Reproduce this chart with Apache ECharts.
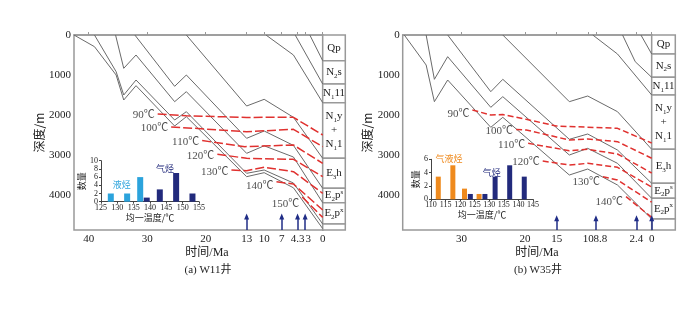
<!DOCTYPE html>
<html>
<head>
<meta charset="utf-8">
<script src="https://cdn.jsdelivr.net/npm/echarts@6/dist/echarts.min.js"></script>
<style>
  html, body { margin: 0; padding: 0; background: #fff; }
  #chart { width: 700px; height: 333px; }
</style>
</head>
<body>
<div id="chart"></div>
<script>
var SERIF = '"Liberation Serif", "DejaVu Serif", serif';
var MIXED = '"Liberation Serif", "Noto Sans CJK SC", serif';
var CJK = '"Noto Sans CJK SC", sans-serif';

var depthMax = 4875;

// ---------- (a) W11 well ----------
var timeTicksA = [40, 30, 20, 13, 10, 7, 4.3, 3, 0];
var arrowTimesA = [13, 7, 4.3, 3];
// burial curves, [time Ma, depth m]
var burialA = [
  [[2.2, 0], [0, 642]],
  [[4.7, 0], [0, 1225]],
  [[9.7, 0], [5, 500], [0, 1692]],
  [[23.3, 0], [13, 1775], [10, 1608], [5, 2058], [0, 3083]],
  [[32.1, 0], [25.3, 1283], [23.3, 1000], [13, 2583], [10, 2400], [5, 2760], [0, 3833]],
  [[35.4, 0], [34, 833], [31.9, 500], [25.3, 1667], [23.3, 1417], [13, 2958], [10, 2770], [5, 3050], [0, 4192]],
  [[39, 0], [35.3, 917], [34, 1500], [31.9, 1125], [25.3, 2125], [23.3, 1917], [13, 3458], [10, 3375], [5, 3700], [0, 4725]],
  [[42.5, 0], [39, 292], [35.3, 1000], [34, 1625], [31.9, 1267], [25.3, 2275], [23.3, 2042], [13, 3542], [10, 3442], [5, 3820], [0, 4840]]
];
var isoLabelsA = ['90℃', '100℃', '110℃', '120℃', '130℃', '140℃', '150℃'];
var isothermsA = [
  [[28.2, 1975], [23.3, 2020], [13, 2060], [5, 2058], [0, 2500]],
  [[25.9, 2300], [21.9, 2333], [13, 2417], [5, 2358], [0, 2792]],
  [[20.6, 2640], [13.3, 2792], [5, 2750], [0, 3208]],
  [[18.0, 2980], [13, 3083], [5, 3108], [0, 3542]],
  [[15.6, 3375], [13, 3392], [10, 3308], [5, 3417], [0, 3958]],
  [[7.9, 3667], [5, 3725], [0, 4375]],
  [[3.5, 4050], [0, 4560]]
];
var stratNamesA = ['{b|Qp}', '{b|N}{s|2}{b|s}', '{b|N}{s|1}{b|11}', '{b|N}{s|1}{b|y}\n{b|+}\n{b|N}{s|1}{b|1}',
  '{b|E}{s|3}{b|h}', '{b|E}{s|2}{b|p}{u|s}', '{b|E}{s|2}{b|p}{u|x}', ''];
var stratBottomsA = [642, 1225, 1692, 3083, 3833, 4192, 4725, 4875];
// homogenization temperature histogram
var liquidTempsA = [128, 133, 137];
var liquidCountsA = [2, 2, 6];
var gasTempsA = [139, 143, 148, 153];
var gasCountsA = [1, 3, 7, 2];

// ---------- (b) W35 well ----------
var timeTicksB = [30, 20, 15, 10, 8.8, 2.4, 0];
var arrowTimesB = [15, 8.8, 2.4, 0];
var burialB = [
  [[1.7, 0], [0, 475]],
  [[4.6, 0], [2.6, 667], [0, 1058]],
  [[9.3, 0], [5.4, 475], [0, 1500]],
  [[23.5, 0], [13, 1667], [10.1, 1525], [5.4, 1917], [0, 2858]],
  [[32.2, 0], [25.4, 1417], [23.5, 1108], [13, 2608], [10.1, 2475], [5.4, 2875], [0, 3708]],
  [[35.6, 0], [34.3, 1108], [32.2, 542], [25.4, 1808], [23.5, 1542], [13, 3000], [10.1, 2833], [5.4, 3208], [0, 4083]],
  [[39.05, 0], [35.6, 750], [34.3, 1667], [32.2, 1125], [25.4, 2308], [23.5, 2058], [13, 3500], [10.1, 3350], [5.4, 3750], [0, 4600]]
];
var isoLabelsB = ['90℃', '100℃', '110℃', '120℃', '130℃', '140℃'];
var isothermsB = [
  [[28.3, 1875], [25.4, 2000], [23.5, 1990], [19.8, 2108], [15.1, 2275], [5.4, 2333], [0, 2700]],
  [[21.4, 2360], [19.8, 2375], [13, 2625], [10.1, 2600], [5.4, 2667], [0, 3080]],
  [[19.5, 2708], [13, 2892], [10.1, 2858], [5.4, 2975], [0, 3450]],
  [[17.2, 3150], [13, 3250], [10.1, 3208], [5.4, 3308], [0, 3800]],
  [[7.7, 3542], [5.4, 3625], [0, 4180]],
  [[4.05, 4042], [0, 4560]]
];
var stratNamesB = stratNamesA;
var stratBottomsB = [475, 1058, 1500, 2858, 3708, 4083, 4600, 4875];
var condTempsB = [112.5, 117.5, 121.5, 126.5];
var condCountsB = [3.4, 5.1, 1.6, 0.8];
var gasTempsB = [123.5, 128.5, 132, 137, 142];
var gasCountsB = [0.8, 0.8, 3.4, 5.1, 3.4];

var chart = echarts.init(document.getElementById('chart'));

var stratRich = {
  b: { fontSize: 11, fontFamily: SERIF, lineHeight: 14, color: '#222' },
  s: { fontSize: 7, fontFamily: SERIF, lineHeight: 8, verticalAlign: 'bottom', color: '#222' },
  u: { fontSize: 7, fontFamily: SERIF, lineHeight: 8, verticalAlign: 'top', color: '#222' }
};

function stratRender(names) {
  return function (params, api) {
    var p0 = api.coord([0, api.value(0)]);
    var p1 = api.coord([1, api.value(1)]);
    return {
      type: 'rect',
      shape: { x: p0[0], y: p0[1], width: p1[0] - p0[0], height: p1[1] - p0[1] },
      style: { fill: '#fff', stroke: '#999', lineWidth: 1.5 },
      textContent: { style: { text: names[params.dataIndex], rich: stratRich, fill: '#222' } },
      textConfig: { position: 'inside' }
    };
  };
}

function stratData(bottoms) {
  return bottoms.map(function (b, i) { return [i === 0 ? 0 : bottoms[i - 1], b]; });
}

// crowded tick labels (4.3/3 and 10/8.8) sit a little apart in the original
var nudged = { 3: 6, 8.8: 9 };

function mainAxes(grid, maxT, ticks) {
  return {
    x: {
      gridIndex: grid, type: 'value', min: 0, max: maxT, inverse: true,
      axisLine: { show: true, lineStyle: { color: '#999', width: 1.5 } },
      axisTick: { show: true, inside: true, length: 3, customValues: ticks, lineStyle: { color: '#999' } },
      axisLabel: {
        customValues: ticks, fontSize: 11, fontFamily: SERIF, color: '#222', margin: 4,
        formatter: function (v) { return nudged[v] ? '{p' + nudged[v] + '|' + v + '}' : String(v); },
        rich: {
          p6: { padding: [0, 0, 0, 6], fontSize: 11, fontFamily: SERIF, color: '#222' },
          p9: { padding: [0, 0, 0, 9], fontSize: 11, fontFamily: SERIF, color: '#222' }
        }
      },
      splitLine: { show: false }
    },
    y: {
      gridIndex: grid, type: 'value', min: 0, max: depthMax, interval: 1000, inverse: true,
      name: '深度/m', nameLocation: 'middle', nameGap: 27,
      nameTextStyle: { fontSize: 12, fontFamily: CJK, color: '#222' },
      axisLine: { show: true, lineStyle: { color: '#999', width: 1.5 } },
      axisTick: { show: true, inside: true, length: 3, lineStyle: { color: '#999' } },
      axisLabel: {
        fontSize: 11, fontFamily: SERIF, color: '#222', margin: 3, showMaxLabel: false,
        formatter: function (v) { return String(v); }
      },
      splitLine: { show: false }
    }
  };
}

function stratAxes(grid) {
  return {
    x: { gridIndex: grid, type: 'value', min: 0, max: 1, show: false },
    y: { gridIndex: grid, type: 'value', min: 0, max: depthMax, inverse: true, show: false }
  };
}

function insetAxes(grid, xmin, xmax, ymax) {
  return {
    x: {
      gridIndex: grid, type: 'value', min: xmin, max: xmax, interval: 5,
      name: '均一温度/℃', nameLocation: 'middle', nameGap: 11,
      nameTextStyle: { fontSize: 9, fontFamily: CJK, color: '#222' },
      axisLine: { lineStyle: { color: '#444', width: 1 } },
      axisTick: { length: 2, lineStyle: { color: '#444' } },
      axisLabel: { fontSize: 8, fontFamily: SERIF, color: '#222', margin: 2 },
      splitLine: { show: false }
    },
    y: {
      gridIndex: grid, type: 'value', min: 0, max: ymax, interval: 2,
      name: '数量', nameLocation: 'middle', nameGap: 10,
      nameTextStyle: { fontSize: 9, fontFamily: CJK, color: '#222' },
      axisLine: { show: true, lineStyle: { color: '#444', width: 1 } },
      axisTick: { show: true, length: 2, lineStyle: { color: '#444' } },
      axisLabel: { fontSize: 8, fontFamily: SERIF, color: '#222', margin: 3 },
      splitLine: { show: false }
    }
  };
}

var axA = mainAxes(0, 42.5, timeTicksA);
var stA = stratAxes(1);
var inA = insetAxes(2, 125, 155, 10);
var axB = mainAxes(3, 39.3, timeTicksB);
var stB = stratAxes(4);
var inB = insetAxes(5, 110, 145, 6);

var series = [];

function addPanel(xi, burial, isotherms, labels, labelOffsets, arrows, arrowTip, dash) {
  burial.forEach(function (line, i) {
    var s = {
      type: 'line', xAxisIndex: xi, yAxisIndex: xi, data: line, symbol: 'none',
      lineStyle: { color: '#6a6a6a', width: 1 }, silent: true, z: 3
    };
    if (i === 0) {
      s.markLine = {
        silent: true, symbol: ['none', 'triangle'], symbolSize: [5, 6],
        label: { show: false },
        lineStyle: { color: '#1f2c86', width: 1.5, type: 'solid' },
        data: arrows.map(function (t) { return [{ coord: [t, depthMax] }, { coord: [t, arrowTip] }]; })
      };
    }
    series.push(s);
  });
  isotherms.forEach(function (line) {
    series.push({
      type: 'line', xAxisIndex: xi, yAxisIndex: xi, data: line, symbol: 'none',
      lineStyle: { color: '#e0312f', width: 1.5, type: dash }, silent: true, z: 4
    });
  });
  series.push({
    type: 'scatter', xAxisIndex: xi, yAxisIndex: xi, symbolSize: 0, silent: true, z: 5,
    data: isotherms.map(function (line, i) {
      return { value: line[0], label: { formatter: labels[i], offset: [0, labelOffsets[i]] } };
    }),
    label: { show: true, position: 'left', distance: 3, fontSize: 11, fontFamily: MIXED, color: '#222' }
  });
}

addPanel(0, burialA, isothermsA, isoLabelsA, [1, 1, 2, 2, 2, 4, 7], arrowTimesA, 4540, [9, 3]);
addPanel(3, burialB, isothermsB, isoLabelsB, [4, 2, 2, 1, 5, 5], arrowTimesB, 4580, [6, 3]);

series.push({
  type: 'custom', xAxisIndex: 1, yAxisIndex: 1, renderItem: stratRender(stratNamesA),
  data: stratData(stratBottomsA), silent: true
});
series.push({
  type: 'custom', xAxisIndex: 4, yAxisIndex: 4, renderItem: stratRender(stratNamesB),
  data: stratData(stratBottomsB), silent: true
});

function bars(xi, temps, counts, color, width) {
  return {
    type: 'bar', xAxisIndex: xi, yAxisIndex: xi, barWidth: width, barGap: '-100%',
    data: temps.map(function (t, i) { return [t, counts[i]]; }),
    itemStyle: { color: color }, silent: true
  };
}
series.push(bars(2, liquidTempsA, liquidCountsA, '#2ba3dc', 6));
series.push(bars(2, gasTempsA, gasCountsA, '#222a7c', 6));
series.push(bars(5, condTempsB, condCountsB, '#ef8a1d', 5));
series.push(bars(5, gasTempsB, gasCountsB, '#222a7c', 5));

function txt(text, x, y, size, font, color) {
  return {
    type: 'text', x: x, y: y, silent: true, z: 10,
    style: { text: text, font: size + 'px ' + font, fill: color || '#222',
      align: 'center', verticalAlign: 'middle', textAlign: 'center', textVerticalAlign: 'middle' }
  };
}

var option = {
  animation: false,
  backgroundColor: '#fff',
  grid: [
    { left: 74, top: 35, width: 248.7, height: 195, show: true, borderColor: '#999', borderWidth: 1.5, backgroundColor: 'transparent' },
    { left: 322.7, top: 35, width: 22.6, height: 195 },
    { left: 101, top: 160.7, width: 98, height: 41 },
    { left: 402.7, top: 35, width: 249, height: 195, show: true, borderColor: '#999', borderWidth: 1.5, backgroundColor: 'transparent' },
    { left: 651.7, top: 35, width: 23.6, height: 195 },
    { left: 431, top: 159.3, width: 102, height: 40 }
  ],
  xAxis: [axA.x, stA.x, inA.x, axB.x, stB.x, inB.x],
  yAxis: [axA.y, stA.y, inA.y, axB.y, stB.y, inB.y],
  series: series,
  graphic: [
    txt('时间/Ma', 207, 253, 12, MIXED),
    txt('(a) W11井', 208, 270, 11, MIXED),
    txt('时间/Ma', 537, 253, 12, MIXED),
    txt('(b) W35井', 538, 270, 11, MIXED),
    txt('液烃', 121.7, 185, 9, CJK, '#2ba3dc'),
    txt('气烃', 165, 169, 9, CJK, '#222a7c'),
    txt('气液烃', 449, 158.5, 9, CJK, '#ef8a1d'),
    txt('气烃', 491.7, 172.3, 9, CJK, '#222a7c')
  ]
};

chart.setOption(option);
</script>
</body>
</html>
